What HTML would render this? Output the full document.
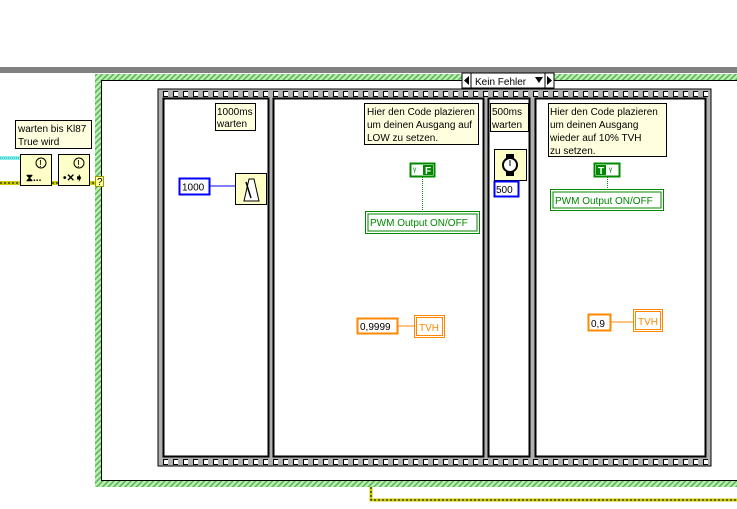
<!DOCTYPE html>
<html><head><meta charset="utf-8"><style>
html,body{margin:0;padding:0;background:#fff;width:737px;height:509px;overflow:hidden}
svg text{font-family:"Liberation Sans",sans-serif;font-size:10px}
</style></head><body>
<svg width="737" height="509" viewBox="0 0 737 509" xmlns="http://www.w3.org/2000/svg">
<defs>
<pattern id="hatch" width="4" height="4" patternUnits="userSpaceOnUse" patternTransform="rotate(45)">
<rect width="4" height="4" fill="#b8f0b0"/><rect width="1.5" height="4" fill="#5fb05a"/>
</pattern>
<pattern id="holesT" x="158" y="89" width="10" height="10" patternUnits="userSpaceOnUse">
<rect x="5.5" y="2.5" width="5" height="5" fill="#fff" stroke="#000" stroke-width="1"/>
</pattern>
<pattern id="holesB" x="158" y="457" width="10" height="10" patternUnits="userSpaceOnUse">
<rect x="5.5" y="2.5" width="5" height="5" fill="#fff" stroke="#000" stroke-width="1"/>
</pattern>
</defs>
<rect x="0" y="67" width="737" height="6" fill="#808080"/>
<rect x="95" y="74" width="650" height="413" fill="url(#hatch)"/>
<rect x="101.5" y="80.5" width="640" height="400" fill="#fff" stroke="#000" stroke-width="1"/>
<rect x="462" y="73" width="92" height="15" fill="#fff" stroke="#000"/>
<line x1="471" y1="73" x2="471" y2="88" stroke="#000"/>
<line x1="545" y1="73" x2="545" y2="88" stroke="#000"/>
<polygon points="464,80.5 469,76 469,85" fill="#000"/>
<polygon points="552,80.5 547,76 547,85" fill="#000"/>
<polygon points="535,77 543,77 539,83" fill="#000"/>
<text x="475" y="85">Kein Fehler</text>
<rect x="158" y="89" width="553" height="377" fill="#b0b0b0" stroke="#000"/>
<rect x="159" y="89" width="551" height="10" fill="url(#holesT)"/>
<rect x="159" y="457" width="551" height="10" fill="url(#holesB)"/>
<rect x="163.5" y="98.5" width="105" height="358" fill="#fff" stroke="#000" stroke-width="2"/>
<rect x="273.5" y="98.5" width="210" height="358" fill="#fff" stroke="#000" stroke-width="2"/>
<rect x="488.5" y="98.5" width="41" height="358" fill="#fff" stroke="#000" stroke-width="2"/>
<rect x="535.5" y="98.5" width="170" height="358" fill="#fff" stroke="#000" stroke-width="2"/>
<rect x="15.5" y="120.5" width="76" height="28" fill="#ffffe0" stroke="#000"/>
<text x="18" y="132">warten bis Kl87</text>
<text x="18" y="145">True wird</text>
<rect x="0" y="156" width="20" height="4" fill="#8ee"/>
<line x1="0" y1="158" x2="20" y2="158" stroke="#0a9" stroke-dasharray="1,1"/>
<rect x="0" y="181" width="95" height="4" fill="#cc0"/>
<line x1="0" y1="183" x2="95" y2="183" stroke="#000" stroke-dasharray="2,2"/>
<rect x="20.5" y="154.5" width="31" height="31" fill="#ffffc8" stroke="#000"/>
<circle cx="41" cy="163" r="5" fill="none" stroke="#000"/><text x="39" y="167" font-size="9">!</text>
<text x="26" y="181" font-size="10" font-weight="bold">⧗...</text>
<rect x="58.5" y="154.5" width="31" height="31" fill="#ffffc8" stroke="#000"/>
<circle cx="79" cy="163" r="5" fill="none" stroke="#000"/><text x="77" y="167" font-size="9">!</text>
<text x="63" y="181" font-size="10" font-weight="bold">•✕➧</text>
<rect x="95.5" y="176.5" width="8" height="10" fill="#ffffa0" stroke="#990"/>
<text x="97" y="185" font-size="8">?</text>
<polyline points="371,487 371,500 737,500" fill="none" stroke="#cc0" stroke-width="3"/>
<polyline points="371,487 371,500 737,500" fill="none" stroke="#000" stroke-width="1" stroke-dasharray="2,2"/>
<rect x="215.5" y="103.5" width="40" height="27" fill="#ffffe0" stroke="#000"/>
<text x="217" y="115">1000ms</text><text x="217" y="127">warten</text>
<rect x="179.5" y="178.5" width="30" height="16" fill="#fff" stroke="#00f" stroke-width="2"/>
<text x="182" y="190.5">1000</text>
<line x1="210" y1="186" x2="235" y2="186" stroke="#00f"/>
<rect x="235.5" y="173.5" width="31" height="31" fill="#ffffc8" stroke="#000"/>
<polygon points="244,201 249,179 254,179 259,201" fill="#fff" stroke="#000"/>
<line x1="251" y1="198" x2="246" y2="182" stroke="#000" stroke-width="1.5"/>
<rect x="364.5" y="103.5" width="114" height="41" fill="#ffffe0" stroke="#000"/>
<text x="367" y="115">Hier den Code plazieren</text>
<text x="367" y="128">um deinen Ausgang auf</text>
<text x="367" y="141">LOW zu setzen.</text>
<rect x="410.5" y="163.5" width="24" height="13" fill="#fff" stroke="#080" stroke-width="2"/>
<rect x="423" y="165" width="10" height="10" fill="#080"/><text x="425" y="174" font-size="8" fill="#fff" font-weight="bold">F</text>
<text x="413" y="174" font-size="8" fill="#080">ᵞ</text>
<line x1="422.5" y1="177" x2="422.5" y2="211" stroke="#080" stroke-dasharray="1,1"/>
<rect x="365" y="211" width="115" height="23" fill="#080"/>
<rect x="366" y="212" width="113" height="21" fill="#fff"/>
<rect x="368" y="214" width="109" height="17" fill="none" stroke="#080" stroke-width="1"/>
<text x="370" y="226" fill="#080">PWM Output ON/OFF</text>
<rect x="357.5" y="318.5" width="40" height="15" fill="#fff" stroke="#f80" stroke-width="2"/>
<text x="360" y="330">0,9999</text>
<line x1="398" y1="326" x2="414" y2="326" stroke="#f80"/>
<rect x="414.5" y="315.5" width="30" height="22" fill="#fff" stroke="#f80"/>
<rect x="416.5" y="317.5" width="26" height="18" fill="none" stroke="#f80"/>
<text x="419" y="331" fill="#f80">TVH</text>
<rect x="490.5" y="103.5" width="38" height="28" fill="#ffffe0" stroke="#000"/>
<text x="492" y="115">500ms</text><text x="492" y="128">warten</text>
<rect x="494.5" y="149.5" width="32" height="31" fill="#ffffc8" stroke="#000"/>
<rect x="506" y="154" width="8" height="22" fill="#000"/>
<circle cx="510" cy="165" r="7" fill="#fff" stroke="#000" stroke-width="2"/>
<line x1="510" y1="160" x2="510" y2="166" stroke="#000"/>
<rect x="494.5" y="181.5" width="24" height="15" fill="#fff" stroke="#00f" stroke-width="2"/>
<text x="496" y="193">500</text>
<rect x="548.5" y="103.5" width="118" height="53" fill="#ffffe0" stroke="#000"/>
<text x="550" y="115">Hier den Code plazieren</text>
<text x="550" y="128">um deinen Ausgang</text>
<text x="550" y="141">wieder auf 10% TVH</text>
<text x="550" y="154">zu setzen.</text>
<rect x="594.5" y="163.5" width="25" height="13" fill="#fff" stroke="#080" stroke-width="2"/>
<rect x="596" y="165" width="10" height="10" fill="#080"/><text x="598" y="174" font-size="8" fill="#fff" font-weight="bold">T</text>
<text x="609" y="174" font-size="8" fill="#080">ᵞ</text>
<line x1="607.5" y1="177" x2="607.5" y2="190" stroke="#080" stroke-dasharray="1,1"/>
<rect x="550" y="189" width="114" height="22" fill="#080"/>
<rect x="551" y="190" width="112" height="20" fill="#fff"/>
<rect x="553" y="192" width="108" height="16" fill="none" stroke="#080" stroke-width="1"/>
<text x="555" y="204" fill="#080">PWM Output ON/OFF</text>
<rect x="588.5" y="314.5" width="22" height="16" fill="#fff" stroke="#f80" stroke-width="2"/>
<text x="591" y="327">0,9</text>
<line x1="611" y1="322" x2="633" y2="322" stroke="#f80"/>
<rect x="633.5" y="309.5" width="29" height="22" fill="#fff" stroke="#f80"/>
<rect x="635.5" y="311.5" width="25" height="18" fill="none" stroke="#f80"/>
<text x="638" y="325" fill="#f80">TVH</text>
</svg>
</body></html>
